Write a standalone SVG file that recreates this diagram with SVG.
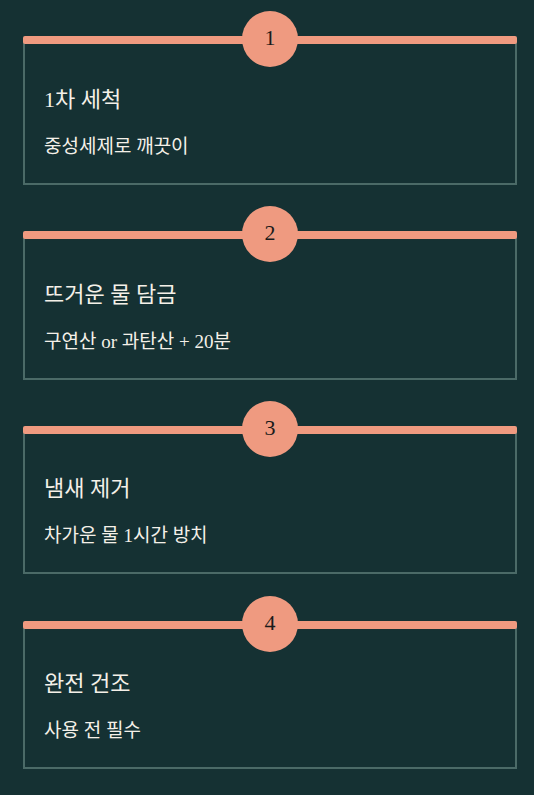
<svg xmlns="http://www.w3.org/2000/svg" width="534" height="795" viewBox="0 0 534 795">
<style>
.bg{fill:#153133}
.box{fill:none;stroke:#4b6a67;stroke-width:2}
.bar{fill:#ef9a80}
.circ{fill:#ef9a80}
.num{font-family:"Liberation Serif","DejaVu Serif",serif;font-size:22px;fill:#1a1a1a;text-anchor:middle}
.title{font-family:"Liberation Serif","Noto Sans CJK KR",serif;font-size:22px;fill:#f4f0e8}
.sub{font-family:"Liberation Serif","Noto Sans CJK KR",serif;font-size:19px;fill:#f4f0e8}
</style>
<rect class="bg" x="0" y="0" width="534" height="795"/>
<g id="connectors"></g>
<g id="step1">
<rect class="box" x="24" y="40" width="492" height="144"/>
<rect class="bar" x="23" y="36" width="494" height="8" rx="2"/>
<circle class="circ" cx="270" cy="39" r="28"/>
<text class="num" x="270" y="45">1</text>
<text class="title" x="44" y="107">1차 세척</text>
<text class="sub" x="44" y="153">중성세제로 깨끗이</text>
</g>
<g id="step2">
<rect class="box" x="24" y="235" width="492" height="144"/>
<rect class="bar" x="23" y="231" width="494" height="8" rx="2"/>
<circle class="circ" cx="270" cy="234" r="28"/>
<text class="num" x="270" y="240">2</text>
<text class="title" x="44" y="302">뜨거운 물 담금</text>
<text class="sub" x="44" y="348">구연산 or 과탄산 + 20분</text>
</g>
<g id="step3">
<rect class="box" x="24" y="430" width="492" height="143"/>
<rect class="bar" x="23" y="426" width="494" height="8" rx="2"/>
<circle class="circ" cx="270" cy="429" r="28"/>
<text class="num" x="270" y="435">3</text>
<text class="title" x="44" y="496">냄새 제거</text>
<text class="sub" x="44" y="542">차가운 물 1시간 방치</text>
</g>
<g id="step4">
<rect class="box" x="24" y="625" width="492" height="143"/>
<rect class="bar" x="23" y="621" width="494" height="8" rx="2"/>
<circle class="circ" cx="270" cy="624" r="28"/>
<text class="num" x="270" y="630">4</text>
<text class="title" x="44" y="691">완전 건조</text>
<text class="sub" x="44" y="737">사용 전 필수</text>
</g>
</svg>
